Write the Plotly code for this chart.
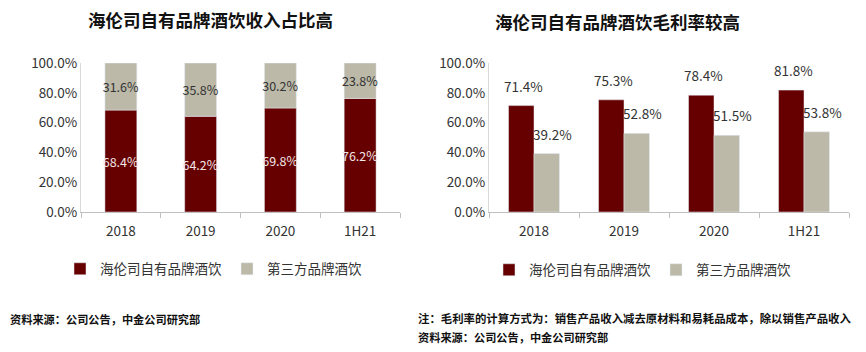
import plotly.graph_objects as go

categories = ["2018", "2019", "2020", "1H21"]
own_share = [68.4, 64.2, 69.8, 76.2]
third_share = [31.6, 35.8, 30.2, 23.8]
own_margin = [71.4, 75.3, 78.4, 81.8]
third_margin = [39.2, 52.8, 51.5, 53.8]

name_own = "海伦司自有品牌酒饮"
name_third = "第三方品牌酒饮"
title_left = "海伦司自有品牌酒饮收入占比高"
title_right = "海伦司自有品牌酒饮毛利率较高"
source = "资料来源：公司公告，中金公司研究部"
note = "注：毛利率的计算方式为：销售产品收入减去原材料和易耗品成本，除以销售产品收入"

RED = "#660000"
GRAY = "#BCB9A8"
FONT = "Noto Sans CJK SC"
W, H = 866, 352

def fx(px):
    return px / W

def fy(py):
    return 1 - py / H

fig = go.Figure()

fig.add_trace(go.Bar(
    x=categories, y=own_share, name=name_own, marker_color=RED,
    width=0.4, offset=-0.2,
    text=[f"{v:.1f}%" for v in own_share], textposition="inside", textangle=0,
    constraintext="none", insidetextanchor="middle",
    textfont=dict(color="#F2E6E6", size=12.5, family=FONT),
    xaxis="x", yaxis="y", legend="legend", hoverinfo="skip"))
fig.add_trace(go.Bar(
    x=categories, y=third_share, base=own_share, name=name_third, marker_color=GRAY,
    width=0.4, offset=-0.2,
    text=[f"{v:.1f}%" for v in third_share], textposition="inside", textangle=0,
    constraintext="none", insidetextanchor="middle",
    textfont=dict(color="#333333", size=12.5, family=FONT),
    xaxis="x", yaxis="y", legend="legend", hoverinfo="skip"))

fig.add_trace(go.Bar(
    x=categories, y=own_margin, name=name_own, marker_color=RED,
    width=0.283, offset=-0.283,
    xaxis="x2", yaxis="y2", legend="legend2", hoverinfo="skip"))
fig.add_trace(go.Bar(
    x=categories, y=third_margin, name=name_third, marker_color=GRAY,
    width=0.283, offset=0.0,
    xaxis="x2", yaxis="y2", legend="legend2", hoverinfo="skip"))

annotations = []
for i, v in enumerate(own_margin):
    annotations.append(dict(x=i, y=v, xref="x2", yref="y2", text=f"{v:.1f}%",
                            showarrow=False, xshift=-11, yshift=20,
                            font=dict(size=13.5, color="#333333", family=FONT)))
for i, v in enumerate(third_margin):
    annotations.append(dict(x=i, y=v, xref="x2", yref="y2", text=f"{v:.1f}%",
                            showarrow=False, xshift=18, yshift=20,
                            font=dict(size=13.5, color="#333333", family=FONT)))

annotations += [
    dict(x=fx(210), y=fy(20), xref="paper", yref="paper", text=f"<b>{title_left}</b>",
         xanchor="center", yanchor="middle",
         showarrow=False, font=dict(size=17.5, color="#111111", family=FONT)),
    dict(x=fx(617), y=fy(21), xref="paper", yref="paper", text=f"<b>{title_right}</b>",
         xanchor="center", yanchor="middle",
         showarrow=False, font=dict(size=17.5, color="#111111", family=FONT)),
    dict(x=fx(8), y=fy(319), xref="paper", yref="paper", text=f"<b>{source}</b>", xanchor="left",
         yanchor="middle", showarrow=False, font=dict(size=11.2, color="#111111", family=FONT)),
    dict(x=fx(416), y=fy(318), xref="paper", yref="paper", text=f"<b>{note}</b>", xanchor="left",
         yanchor="middle", showarrow=False, font=dict(size=11.4, color="#111111", family=FONT)),
    dict(x=fx(416), y=fy(337), xref="paper", yref="paper", text=f"<b>{source}</b>", xanchor="left",
         yanchor="middle", showarrow=False, font=dict(size=11.2, color="#111111", family=FONT)),
]

axis_common_x = dict(type="category", categoryorder="array", categoryarray=categories,
                     range=[-0.5, 3.5], showline=True, linecolor="#BFBFBF", linewidth=1,
                     ticks="outside", tickson="boundaries", ticklen=5, tickcolor="#BFBFBF",
                     showgrid=False, tickangle=0, automargin=False, ticklabelstandoff=7,
                     tickfont=dict(size=13.5, color="#333333", family=FONT),
                     fixedrange=True)
axis_common_y = dict(range=[0, 100], dtick=20, tickformat=".1f", ticksuffix="%",
                     showline=True, linecolor="#D9D9D9", linewidth=1, showgrid=False,
                     zeroline=False, ticks="", automargin=False,
                     tickfont=dict(size=13.5, color="#333333", family=FONT),
                     fixedrange=True)

fig.update_layout(
    width=W, height=H, margin=dict(l=0, r=0, t=0, b=0, autoexpand=False),
    paper_bgcolor="white", plot_bgcolor="white",
    font=dict(family=FONT, color="#333333"),
    barmode="overlay",
    xaxis=dict(domain=[fx(81), fx(400)], anchor="y", **axis_common_x),
    yaxis=dict(domain=[fy(212), fy(63)], anchor="x", **axis_common_y),
    xaxis2=dict(domain=[fx(489), fx(849)], anchor="y2", **axis_common_x),
    yaxis2=dict(domain=[fy(212), fy(63)], anchor="x2", **axis_common_y),
    showlegend=True,
    legend=dict(orientation="h", x=fx(60), y=fy(269), xanchor="left", yanchor="middle",
                font=dict(size=13.5, color="#333333", family=FONT), itemwidth=30,
                traceorder="normal", bgcolor="rgba(0,0,0,0)"),
    legend2=dict(orientation="h", x=fx(489), y=fy(270), xanchor="left", yanchor="middle",
                 font=dict(size=13.5, color="#333333", family=FONT), itemwidth=30,
                 traceorder="normal", bgcolor="rgba(0,0,0,0)"),
    annotations=annotations,
)

fig.write_html("out.html")
